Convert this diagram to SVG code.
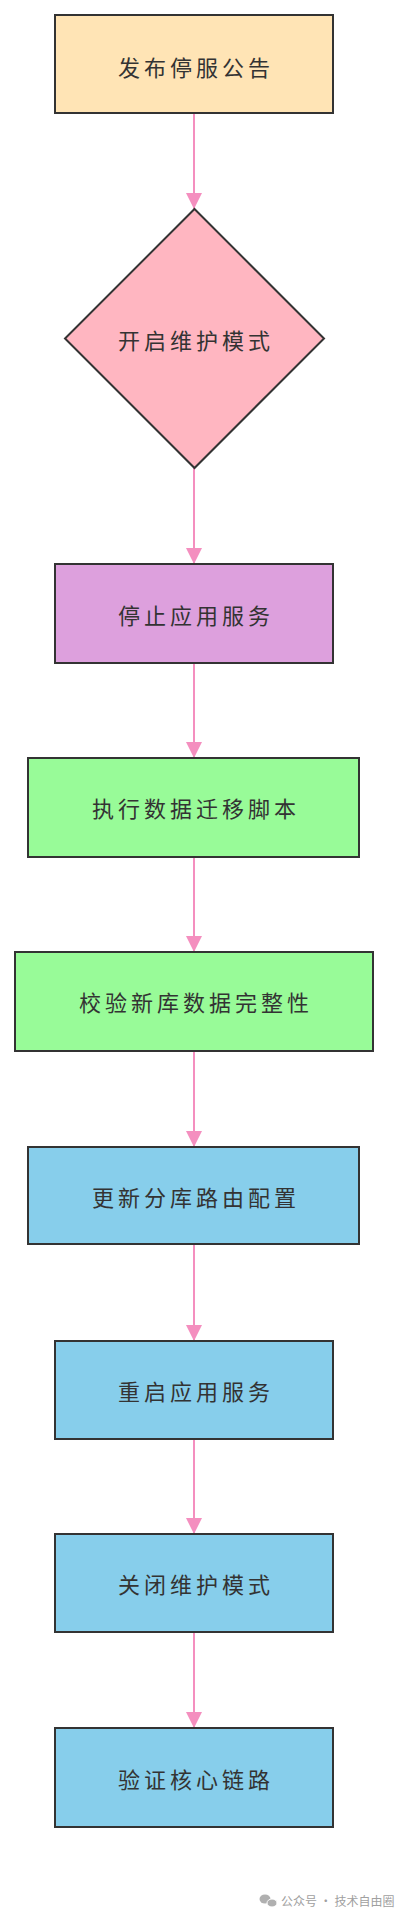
<svg xmlns="http://www.w3.org/2000/svg" width="404" height="1918" viewBox="0 0 404 1918">
<style>
.n{stroke:#333;stroke-width:2}
.t{font-family:"Noto Sans CJK SC","Noto Sans",sans-serif;font-size:22px;fill:#333;text-anchor:middle;dominant-baseline:central;letter-spacing:4px}
.e{stroke:#F48FBF;stroke-width:2;fill:none}
.wm{font-family:"Noto Sans CJK SC","Noto Sans",sans-serif;font-size:12px;fill:#a0a0a0}
</style>
<defs>
<marker id="ah" viewBox="0 0 16 16" refX="16" refY="8" markerWidth="16" markerHeight="16" markerUnits="userSpaceOnUse" orient="auto">
<path d="M0,0 L16,8 L0,16 z" fill="#F48FBF"/>
</marker>
</defs>
<g id="edges">
<line class="e" x1="194" y1="113" x2="194" y2="209" marker-end="url(#ah)"/>
<line class="e" x1="194" y1="468" x2="194" y2="564" marker-end="url(#ah)"/>
<line class="e" x1="194" y1="663" x2="194" y2="758" marker-end="url(#ah)"/>
<line class="e" x1="194" y1="857" x2="194" y2="952" marker-end="url(#ah)"/>
<line class="e" x1="194" y1="1051" x2="194" y2="1147" marker-end="url(#ah)"/>
<line class="e" x1="194" y1="1244" x2="194" y2="1341" marker-end="url(#ah)"/>
<line class="e" x1="194" y1="1439" x2="194" y2="1534" marker-end="url(#ah)"/>
<line class="e" x1="194" y1="1632" x2="194" y2="1728" marker-end="url(#ah)"/>
</g>
<g id="n1"><rect class="n" x="55" y="15" width="278" height="98" fill="#FFE4B5"/><text class="t" x="196" y="66">发布停服公告</text></g>
<g id="n2"><polygon class="n" points="194.5,209 324,338.5 194.5,468 65,338.5" fill="#FFB6C1"/><text class="t" x="196" y="339">开启维护模式</text></g>
<g id="n3"><rect class="n" x="55" y="564" width="278" height="99" fill="#DDA0DD"/><text class="t" x="196" y="614">停止应用服务</text></g>
<g id="n4"><rect class="n" x="28" y="758" width="331" height="99" fill="#98FB98"/><text class="t" x="196" y="807">执行数据迁移脚本</text></g>
<g id="n5"><rect class="n" x="15" y="952" width="358" height="99" fill="#98FB98"/><text class="t" x="196" y="1001">校验新库数据完整性</text></g>
<g id="n6"><rect class="n" x="28" y="1147" width="331" height="97" fill="#87CEEB"/><text class="t" x="196" y="1196">更新分库路由配置</text></g>
<g id="n7"><rect class="n" x="55" y="1341" width="278" height="98" fill="#87CEEB"/><text class="t" x="196" y="1390">重启应用服务</text></g>
<g id="n8"><rect class="n" x="55" y="1534" width="278" height="98" fill="#87CEEB"/><text class="t" x="196" y="1583">关闭维护模式</text></g>
<g id="n9"><rect class="n" x="55" y="1728" width="278" height="99" fill="#87CEEB"/><text class="t" x="196" y="1778">验证核心链路</text></g>
<g id="watermark">
<ellipse cx="265" cy="1899" rx="5.5" ry="4.5" fill="#b0b0b0"/>
<ellipse cx="272" cy="1903" rx="5" ry="4" fill="#b0b0b0" stroke="#fff" stroke-width="1"/>
<text class="wm" x="281" y="1906">公众号 · 技术自由圈</text>
</g>
</svg>
